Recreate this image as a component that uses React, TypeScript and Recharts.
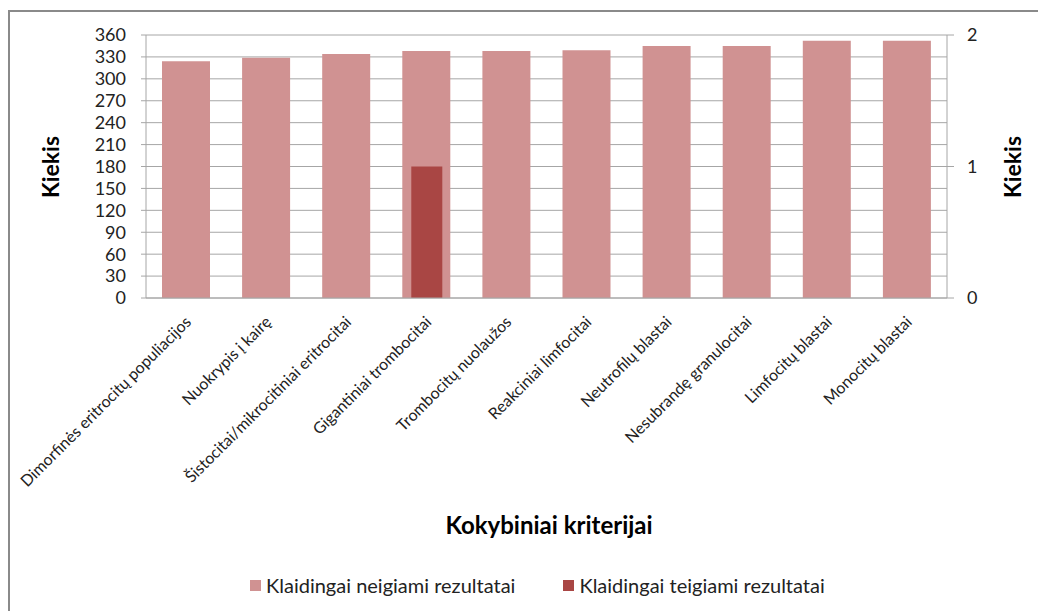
import { BarChart, Bar, XAxis, YAxis, CartesianGrid, Label } from 'recharts'

const categories = [
  'Dimorfinės eritrocitų populiacijos',
  'Nuokrypis į kairę',
  'Šistocitai/mikrocitiniai eritrocitai',
  'Gigantiniai trombocitai',
  'Trombocitų nuolaužos',
  'Reakciniai limfocitai',
  'Neutrofilų blastai',
  'Nesubrandę granulocitai',
  'Limfocitų blastai',
  'Monocitų blastai',
]

const falseNegatives = [324, 329, 334, 338, 338, 339, 345, 345, 352, 352]
const falsePositives = [0, 0, 0, 1, 0, 0, 0, 0, 0, 0]

const leftTicks = [0, 30, 60, 90, 120, 150, 180, 210, 240, 270, 300, 330, 360]
const rightTicks = [0, 1, 2]

const NEG_NAME = 'Klaidingai neigiami rezultatai'
const POS_NAME = 'Klaidingai teigiami rezultatai'
const NEG_COLOR = '#D09292'
const POS_COLOR = '#A94644'
const FONT = 'Lato, "Open Sans", sans-serif'

const data = categories.map((name, i) => ({
  name,
  neg: falseNegatives[i],
  pos: falsePositives[i],
}))

function CategoryTick({ x, y, payload }: any) {
  return (
    <g transform={`translate(${x + 6},${y + 25})`}>
      <text
        x={0}
        y={0}
        textAnchor="end"
        transform="rotate(-45)"
        fontSize={16}
        fontFamily={FONT}
        fill="#222"
      >
        {payload.value}
      </text>
    </g>
  )
}

function AxisTitle({ x, y, text, rotate, size = 23 }: { x: number; y: number; text: string; rotate?: boolean; size?: number }) {
  return (
    <text
      x={x}
      y={y}
      textAnchor="middle"
      dominantBaseline="central"
      transform={rotate ? `rotate(-90, ${x}, ${y})` : undefined}
      fontSize={size}
      fontWeight={700}
      fontFamily={FONT}
      fill="#000"
    >
      {text}
    </text>
  )
}

export default function App() {
  return (
    <div style={{ position: 'relative', width: 1038, height: 611, overflow: 'hidden', background: '#fff' }}>
      <style>{'body{margin:0}'}</style>
      <div
        style={{
          position: 'absolute',
          left: 8,
          top: 10,
          width: 1200,
          height: 800,
          border: '2px solid #8a8a8a',
        }}
      />
      <div style={{ position: 'absolute', left: 0, top: 0 }}>
        <BarChart width={1038} height={611} data={data} margin={{ top: 35, right: 0, left: 0, bottom: 0 }}>
          <CartesianGrid xAxisId="a" yAxisId="left" vertical={false} stroke="#a6a6a6" />
          <XAxis
            xAxisId="a"
            dataKey="name"
            height={313}
            interval={0}
            tickLine={false}
            tickSize={0}
            tickMargin={0}
            axisLine={{ stroke: '#a6a6a6' }}
            tick={<CategoryTick />}
          >
            <Label content={() => <AxisTitle x={549} y={524} text="Kokybiniai kriterijai" size={24} />} />
          </XAxis>
          <XAxis xAxisId="b" dataKey="name" hide />
          <YAxis
            yAxisId="left"
            width={146}
            domain={[0, 360]}
            ticks={leftTicks}
            interval={0}
            tickSize={5}
            tickMargin={15}
            tickLine={{ stroke: '#a6a6a6' }}
            axisLine={{ stroke: '#a6a6a6' }}
            tick={{ fontSize: 18, fill: '#222', fontFamily: FONT }}
          >
            <Label content={() => <AxisTitle x={50} y={167} text="Kiekis" rotate />} />
          </YAxis>
          <YAxis
            yAxisId="right"
            orientation="right"
            width={91}
            domain={[0, 2]}
            ticks={rightTicks}
            interval={0}
            tickSize={7}
            tickMargin={13}
            tickLine={{ stroke: '#a6a6a6' }}
            axisLine={{ stroke: '#a6a6a6' }}
            tick={{ fontSize: 18, fill: '#222', fontFamily: FONT, textAnchor: 'start' }}
          >
            <Label content={() => <AxisTitle x={1012} y={167} text="Kiekis" rotate />} />
          </YAxis>
          <Bar
            xAxisId="a"
            yAxisId="left"
            dataKey="neg"
            name={NEG_NAME}
            fill={NEG_COLOR}
            barSize={48}
            isAnimationActive={false}
          />
          <Bar
            xAxisId="b"
            yAxisId="right"
            dataKey="pos"
            name={POS_NAME}
            fill={POS_COLOR}
            barSize={31}
            isAnimationActive={false}
          />
        </BarChart>
      </div>
      <div
        style={{
          position: 'absolute',
          top: 574,
          left: 250,
          display: 'flex',
          alignItems: 'center',
          fontFamily: FONT,
          fontSize: 20,
          color: '#222',
          lineHeight: '22px',
        }}
      >
        {[
          { name: NEG_NAME, color: NEG_COLOR },
          { name: POS_NAME, color: POS_COLOR },
        ].map((item, i) => (
          <div key={item.name} style={{ display: 'flex', alignItems: 'center', marginLeft: i === 0 ? 0 : 48 }}>
            <span style={{ width: 11, height: 11, background: item.color, marginRight: 5, display: 'inline-block' }} />
            <span>{item.name}</span>
          </div>
        ))}
      </div>
    </div>
  )
}
